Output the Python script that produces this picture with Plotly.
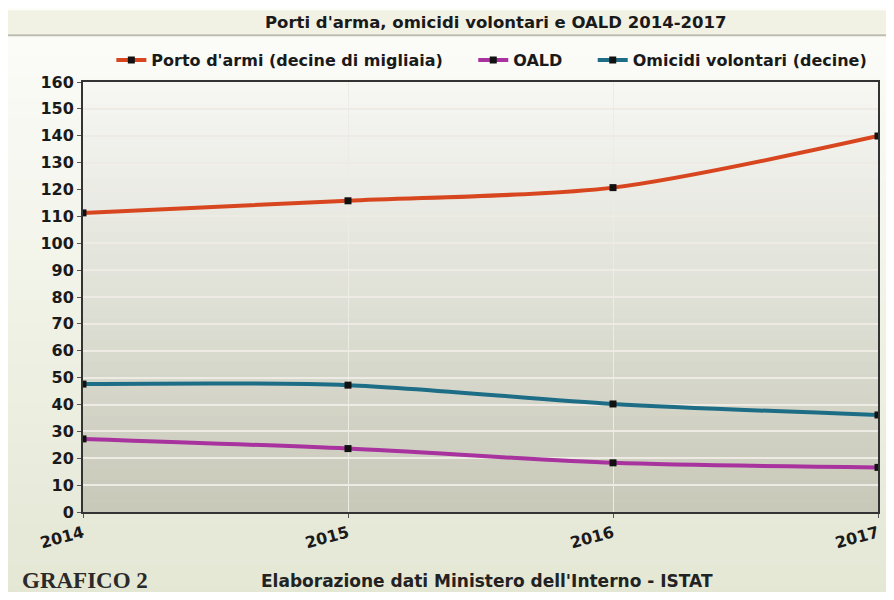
import plotly.graph_objects as go

anni = [2014, 2015, 2016, 2017]
porto_armi = [111.3, 115.8, 120.7, 139.9]
oald = [27.2, 23.6, 18.3, 16.6]
omicidi = [47.6, 47.2, 40.2, 36.1]

series = [
    ("Porto d'armi (decine di migliaia)", porto_armi, "#D8461F"),
    ("OALD", oald, "#A8329E"),
    ("Omicidi volontari (decine)", omicidi, "#1E6D86"),
]

font = "DejaVu Sans, Liberation Sans, sans-serif"
pad = "&nbsp;" * 5

fig = go.Figure()
for name, vals, color in series:
    fig.add_trace(go.Scatter(
        x=anni,
        y=vals,
        name="<b>" + name + "</b>" + pad,
        mode="lines+markers",
        line=dict(color=color, width=4, shape="spline", smoothing=0.8),
        marker=dict(symbol="square", size=7, color="#111111"),
    ))


def blend(c1, c2, t):
    return "rgb(%d,%d,%d)" % tuple(round(a + (b - a) * t) for a, b in zip(c1, c2))


shapes = []
# page background gradient
n = 30
for i in range(n):
    y1 = 1.2 - (1.42 / n) * i
    shapes.append(dict(
        type="rect", xref="paper", yref="paper", layer="below",
        x0=-0.12, x1=1.03, y0=y1 - 1.42 / n - 0.002, y1=y1,
        fillcolor=blend((253, 253, 250), (228, 231, 212), i / (n - 1)),
        line=dict(width=0),
    ))
# plot area gradient
n = 40
for i in range(n):
    y1 = 1 - i / n
    shapes.append(dict(
        type="rect", xref="paper", yref="paper", layer="below",
        x0=0, x1=1, y0=y1 - 1 / n - 0.001, y1=y1,
        fillcolor=blend((246, 247, 243), (200, 201, 185), i / (n - 1)),
        line=dict(width=0),
    ))
# title bar
shapes.append(dict(
    type="rect", xref="paper", yref="paper", layer="below",
    x0=-0.12, x1=1.03, y0=1.112, y1=1.167,
    fillcolor="#F2F2E4", line=dict(width=0),
))
shapes.append(dict(
    type="line", xref="paper", yref="paper", layer="below",
    x0=-0.12, x1=1.03, y0=1.109, y1=1.109,
    line=dict(color="#BDBDAE", width=2),
))

fig.update_layout(
    width=878,
    height=584,
    margin=dict(l=75, r=8, t=74, b=80, autoexpand=False),
    paper_bgcolor="#F4F5EC",
    plot_bgcolor="rgba(0,0,0,0)",
    shapes=shapes,
    showlegend=True,
    legend=dict(
        orientation="h", x=0.53, xanchor="center", y=1.051, yanchor="middle",
        font=dict(family=font, size=16, color="#1a1a1a"),
        bgcolor="rgba(0,0,0,0)", itemwidth=30,
    ),
    font=dict(family=font, color="#222222"),
    annotations=[
        dict(text="<b>Porti d'arma, omicidi volontari e OALD 2014-2017</b>",
             xref="paper", yref="paper", x=0.519, y=1.1395, yanchor="middle",
             showarrow=False, font=dict(family=font, size=16.5, color="#1a1a1a")),
        dict(text="<b>GRAFICO 2</b>", xref="paper", yref="paper",
             x=-0.079, y=-0.16, xanchor="left", yanchor="middle", showarrow=False,
             font=dict(family="Liberation Serif, serif", size=23, color="#2a2a2a")),
        dict(text="<b>Elaborazione dati Ministero dell'Interno - ISTAT</b>",
             xref="paper", yref="paper", x=0.508, y=-0.16, yanchor="middle",
             showarrow=False, font=dict(family=font, size=17, color="#222222")),
    ],
)

fig.update_xaxes(
    range=[2014, 2017],
    tickvals=anni,
    ticktext=["<b>%d</b>" % a for a in anni],
    tickangle=-15,
    tickfont=dict(family=font, size=16, color="#1a1a1a"),
    showgrid=True, gridcolor="#EEEBE4", gridwidth=1,
    showline=True, linecolor="#333333", linewidth=2, mirror=True,
    ticks="outside", ticklen=4, tickcolor="#555555",
    zeroline=False,
)
fig.update_yaxes(
    range=[0, 160],
    tickvals=list(range(0, 161, 10)),
    ticktext=["<b>%d</b>" % v for v in range(0, 161, 10)],
    tickfont=dict(family=font, size=16, color="#1a1a1a"),
    showgrid=True, gridcolor="#EEEBE4", gridwidth=2,
    showline=True, linecolor="#333333", linewidth=2, mirror=True,
    ticks="outside", ticklen=4, tickcolor="#555555",
    zeroline=False,
)

fig.write_html("out.html")
